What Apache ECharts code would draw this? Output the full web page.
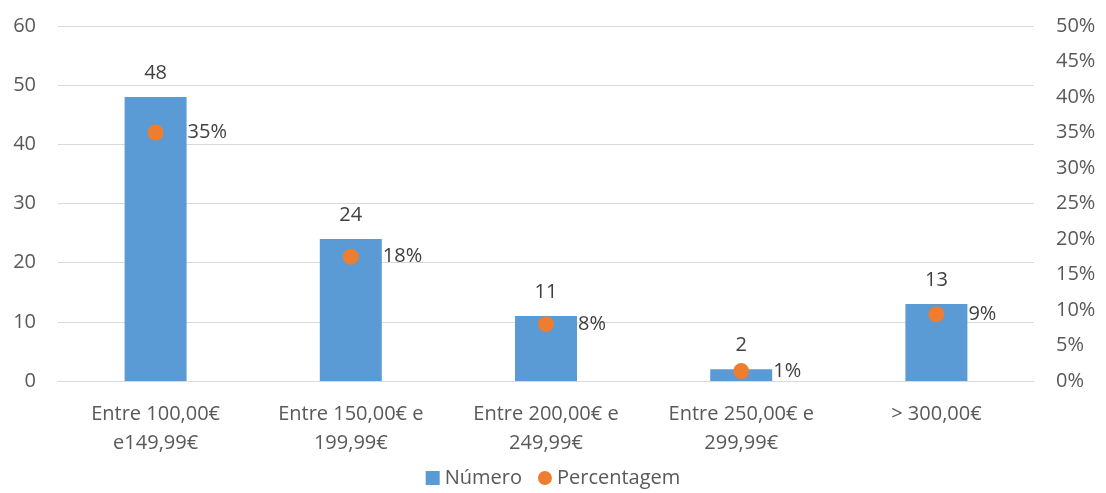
<!DOCTYPE html>
<html><head><meta charset="utf-8">
<script src="https://cdn.jsdelivr.net/npm/echarts@6/dist/echarts.min.js"></script>
<style>html,body{margin:0;padding:0;background:#fff}#c{width:1106px;height:493px}</style>
</head><body><div id="c"></div>
<script>
const categories = ["Entre 100,00€\ne149,99€", "Entre 150,00€ e\n199,99€", "Entre 200,00€ e\n249,99€", "Entre 250,00€ e\n299,99€", "> 300,00€"];
const numero = [48, 24, 11, 2, 13];
const percentagem = [35.0, 17.5, 8.0, 1.4, 9.4];
const FONT = "'Open Sans', 'Noto Sans', sans-serif";
const FS = 20;
const chart = echarts.init(document.getElementById('c'));
chart.setOption({
  animation: false,
  textStyle: { fontFamily: FONT },
  grid: { left: 58, right: 72, top: 26, bottom: 112 },
  legend: {
    bottom: 0, itemGap: 16, itemWidth: 14, itemHeight: 14,
    textStyle: { fontSize: FS, color: '#595959', fontFamily: FONT },
    data: [{ name: 'Número', icon: 'rect' }, { name: 'Percentagem', icon: 'circle' }]
  },
  xAxis: {
    type: 'category', data: categories,
    axisLine: { lineStyle: { color: '#d9d9d9', width: 1 } },
    axisTick: { show: false },
    axisLabel: { fontSize: FS, color: '#595959', margin: 19, lineHeight: 29, interval: 0, fontFamily: FONT }
  },
  yAxis: [
    { type: 'value', min: 0, max: 60, interval: 10,
      axisLine: { show: false }, axisTick: { show: false },
      splitLine: { lineStyle: { color: '#d9d9d9', width: 1 } },
      axisLabel: { fontSize: FS, color: '#595959', margin: 22, fontFamily: FONT } },
    { type: 'value', min: 0, max: 50, interval: 5, position: 'right',
      axisLine: { show: false }, axisTick: { show: false }, splitLine: { show: false },
      axisLabel: { fontSize: FS, color: '#595959', margin: 22, formatter: '{value}%', fontFamily: FONT } }
  ],
  series: [
    { name: 'Número', type: 'bar', data: numero, barWidth: 62, yAxisIndex: 0,
      itemStyle: { color: '#5b9bd5' },
      label: { show: true, position: 'top', distance: 14, fontSize: FS, color: '#404040', fontFamily: FONT } },
    { name: 'Percentagem', type: 'scatter', data: percentagem, yAxisIndex: 1,
      symbol: 'circle', symbolSize: 16, itemStyle: { color: '#ed7d31', opacity: 1 },
      label: { show: true, position: 'right', distance: 24, fontSize: FS, color: '#404040', opacity: 1, fontFamily: FONT,
        formatter: p => Math.round(p.value) + '%' } }
  ]
});
</script></body></html>
